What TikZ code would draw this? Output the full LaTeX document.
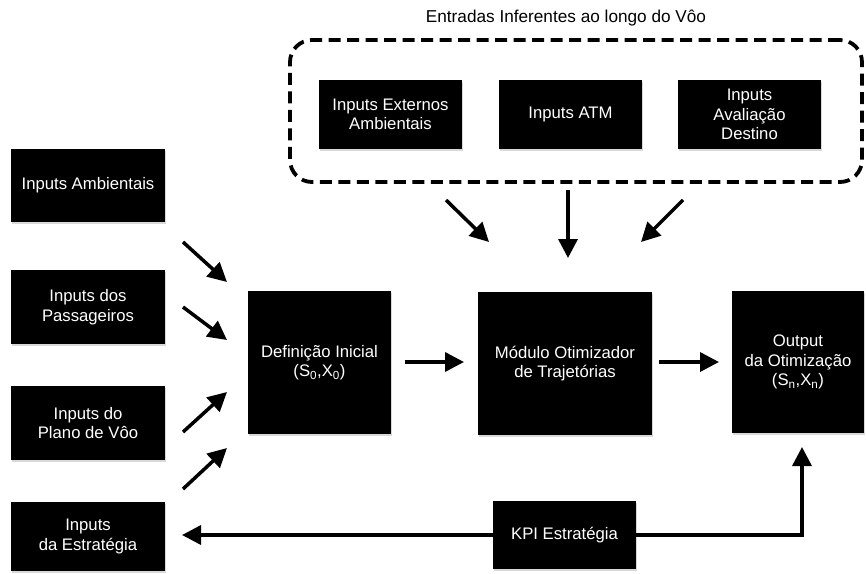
\documentclass[tikz,border=0pt]{standalone}
\usepackage{fontspec}
\setmainfont{Liberation Sans}
\usetikzlibrary{arrows.meta,shadows}
\begin{document}
\begin{tikzpicture}[x=1pt,y=-1pt,
  txt/.style={font=\fontsize{16.7}{19.5}\selectfont},
  blk/.style={txt, fill=black, text=white, align=center, inner sep=0pt,
    drop shadow={shadow xshift=1pt,shadow yshift=-2pt,opacity=0.3}},
  sz/.style 2 args={minimum width=#1pt, minimum height=#2pt},
  arr/.style={line width=3.5pt, -{Triangle[length=19pt,width=19pt]}},
  grpbox/.style={draw, line width=3.8pt, dash pattern=on 12pt off 6.5pt, rounded corners=22pt, inner sep=0pt}
]
\useasboundingbox (0,0) rectangle (866,573);

% group
\node[grpbox, sz={572}{142}] (grp) at (576,111) {};
\node[font=\fontsize{17.2}{20}\selectfont] (ttl) at (566,18) {Entradas Inferentes ao longo do Vôo};

% top inputs
\node[blk, sz={143}{69}] (ext) at (390.5,114.5) {Inputs Externos\\Ambientais};
\node[blk, sz={143}{69}] (atm) at (570.5,114.5) {Inputs ATM};
\node[blk, sz={143}{69}] (aval) at (749.5,114.5) {Inputs\\Avaliação\\Destino};

% left inputs
\node[blk, sz={154}{73}] (amb) at (88,185.5) {Inputs Ambientais};
\node[blk, sz={154}{74}] (pass) at (88,307) {Inputs dos\\Passageiros};
\node[blk, sz={154}{74}] (plano) at (88,423) {Inputs do\\Plano de Vôo};
\node[blk, sz={154}{69}] (estr) at (88,536.5) {Inputs\\da Estratégia};

% main chain
\node[blk, sz={143}{143}] (def) at (319.5,362.5) {Definição Inicial\\(S\textsubscript{0},X\textsubscript{0})};
\node[blk, sz={174}{143}] (mod) at (565,363.5) {Módulo Otimizador\\de Trajetórias};
\node[blk, sz={132}{142}] (out) at (798,362) {Output\\da Otimização\\(S\textsubscript{n},X\textsubscript{n})};
\node[blk, sz={143}{68}] (kpi) at (564.5,535) {KPI Estratégia};

% arrow end points
\coordinate (a1s) at (183,242); \coordinate (a1e) at (227,282);
\coordinate (a2s) at (183,307); \coordinate (a2e) at (227,340);
\coordinate (a3s) at (183,432); \coordinate (a3e) at (227,392);
\coordinate (a4s) at (183,489); \coordinate (a4e) at (227,448);
\coordinate (t1s) at (446,200); \coordinate (t1e) at (489,242);
\coordinate (t2s) at (568,190); \coordinate (t2e) at (568,258);
\coordinate (t3s) at (683,200); \coordinate (t3e) at (641,242);
\coordinate (m1s) at (405,362); \coordinate (m1e) at (464,362);
\coordinate (m2s) at (659,362); \coordinate (m2e) at (719,362);
\coordinate (kfb) at (802,447);
\coordinate (kpl) at (182,535);

\draw[arr] (a1s) -- (a1e);
\draw[arr] (a2s) -- (a2e);
\draw[arr] (a3s) -- (a3e);
\draw[arr] (a4s) -- (a4e);
\draw[arr] (t1s) -- (t1e);
\draw[arr] (t2s) -- (t2e);
\draw[arr] (t3s) -- (t3e);
\draw[arr] (m1s) -- (m1e);
\draw[arr] (m2s) -- (m2e);
\draw[arr] (kpi.east) -| (kfb);
\draw[arr] (kpi.west) -- (kpl);
\end{tikzpicture}
\end{document}
